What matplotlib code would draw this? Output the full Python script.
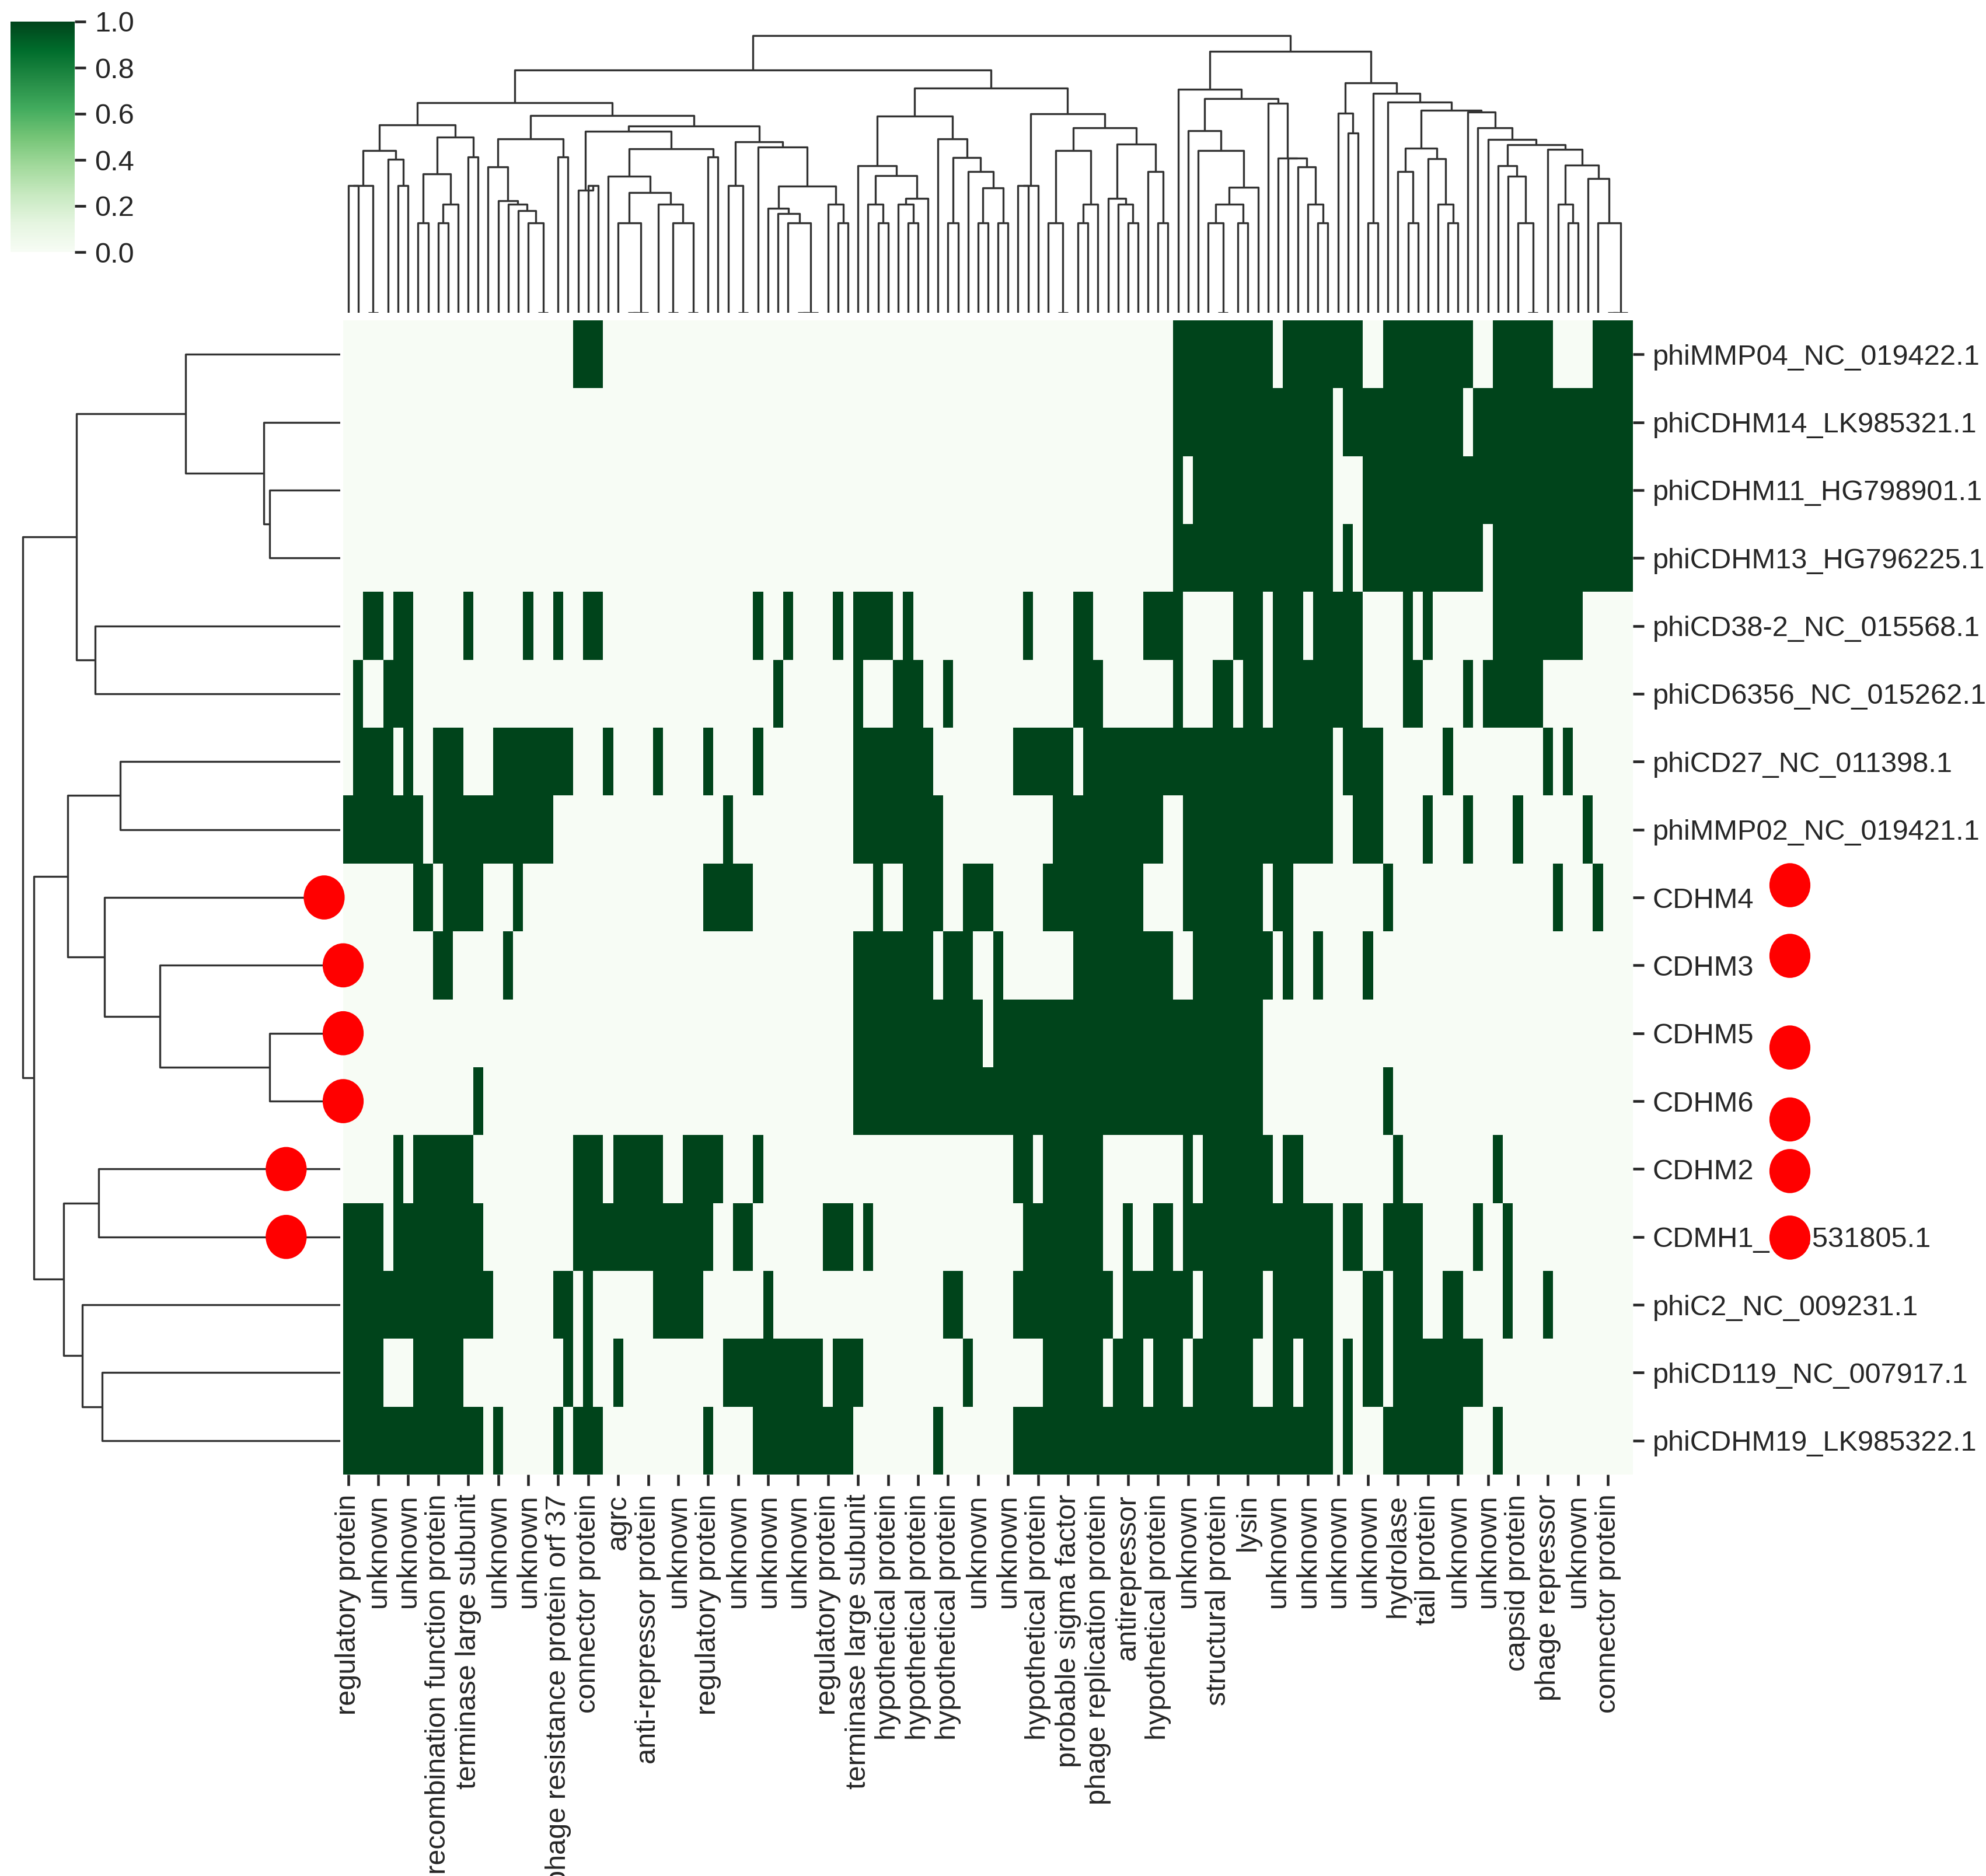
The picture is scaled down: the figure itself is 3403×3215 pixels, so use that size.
import numpy as np
import matplotlib
matplotlib.use("Agg")
import matplotlib.pyplot as plt
from matplotlib.collections import LineCollection
from matplotlib.patches import Ellipse

plt.rcParams['font.family'] = ['Liberation Sans', 'DejaVu Sans']

# ---------------- data ----------------
row_labels = [
    "phiMMP04_NC_019422.1", "phiCDHM14_LK985321.1", "phiCDHM11_HG798901.1",
    "phiCDHM13_HG796225.1", "phiCD38-2_NC_015568.1", "phiCD6356_NC_015262.1",
    "phiCD27_NC_011398.1", "phiMMP02_NC_019421.1", "CDHM4", "CDHM3", "CDHM5",
    "CDHM6", "CDHM2", "CDMH1_HG531805.1", "phiC2_NC_009231.1",
    "phiCD119_NC_007917.1", "phiCDHM19_LK985322.1",
]

n_cols = 129
col_tick_labels = [
    "regulatory protein", "unknown", "unknown", "recombination function protein",
    "terminase large subunit", "unknown", "unknown", "phage resistance protein orf 37",
    "connector protein", "agrc", "anti-repressor protein", "unknown",
    "regulatory protein", "unknown", "unknown", "unknown", "regulatory protein",
    "terminase large subunit", "hypothetical protein", "hypothetical protein",
    "hypothetical protein", "unknown", "unknown", "hypothetical protein",
    "probable sigma factor", "phage replication protein", "antirepressor",
    "hypothetical protein", "unknown", "structural protein", "lysin", "unknown",
    "unknown", "unknown", "unknown", "hydrolase", "tail protein", "unknown",
    "unknown", "capsid protein", "phage repressor", "unknown", "connector protein",
]
label_step = 3

# gene presence (value 1) per genome, as inclusive column ranges in displayed order
presence_ranges = [
    [(23, 25), (83, 92), (94, 101), (104, 112), (115, 120), (125, 128)],
    [(83, 98), (100, 111), (113, 128)],
    [(83, 83), (85, 98), (102, 128)],
    [(83, 98), (100, 100), (102, 113), (115, 128)],
    [(2, 3), (5, 6), (12, 12), (18, 18), (21, 21), (24, 25), (41, 41), (44, 44),
     (49, 49), (51, 54), (56, 56), (68, 68), (73, 74), (80, 83), (89, 91), (93, 95),
     (97, 101), (106, 106), (108, 108), (115, 123)],
    [(1, 1), (4, 6), (43, 43), (51, 51), (55, 57), (60, 60), (73, 75), (83, 83),
     (87, 88), (90, 91), (93, 101), (106, 107), (112, 112), (114, 119)],
    [(1, 4), (6, 6), (9, 11), (15, 22), (26, 26), (31, 31), (36, 36), (41, 41),
     (51, 58), (67, 72), (74, 98), (100, 103), (110, 110), (120, 120), (122, 122)],
    [(0, 7), (9, 20), (38, 38), (51, 59), (71, 81), (84, 98), (101, 103), (108, 108),
     (112, 112), (117, 117), (124, 124)],
    [(7, 8), (10, 13), (17, 17), (36, 40), (53, 53), (56, 59), (62, 64), (70, 79),
     (84, 91), (93, 94), (104, 104), (121, 121), (125, 125)],
    [(9, 10), (16, 16), (51, 58), (60, 62), (65, 65), (73, 82), (85, 92), (94, 94),
     (97, 97), (102, 102)],
    [(51, 63), (65, 91)],
    [(13, 13), (51, 91), (104, 104)],
    [(5, 5), (7, 12), (23, 25), (27, 31), (34, 37), (41, 41), (67, 68), (70, 75),
     (84, 84), (86, 92), (94, 95), (105, 105), (115, 115)],
    [(0, 3), (5, 13), (23, 36), (39, 40), (48, 50), (52, 52), (68, 75), (78, 78),
     (81, 82), (84, 98), (100, 101), (104, 107), (113, 113), (116, 116)],
    [(0, 14), (21, 22), (24, 24), (31, 35), (42, 42), (60, 61), (67, 76), (78, 84),
     (86, 91), (93, 98), (102, 103), (105, 107), (110, 111), (116, 116), (120, 120)],
    [(0, 3), (7, 11), (22, 22), (24, 24), (27, 27), (38, 47), (49, 51), (62, 62),
     (70, 75), (77, 79), (81, 83), (85, 90), (93, 94), (96, 98), (100, 100),
     (102, 103), (105, 113)],
    [(0, 13), (15, 15), (21, 21), (23, 25), (36, 36), (41, 50), (59, 59), (67, 98),
     (100, 100), (104, 111), (115, 115)],
]

# highlighted genomes (red markers): row positions
mark_left_rows = [8.5, 9.5, 10.5, 11.5, 12.5, 13.5]
mark_left_cols = [-1.9, 0.0, 0.0, 0.0, -5.7, -5.7]
mark_right_rows = [8.32, 9.36, 10.71, 11.77, 12.53, 13.51]
mark_right_col = 144.7

# ---------------- build matrix ----------------
n_rows = len(row_labels)
M = np.zeros((n_rows, n_cols))
for i, rngs in enumerate(presence_ranges):
    for a, b in rngs:
        M[i, a:b + 1] = 1


def ordered_average_linkage(X):
    """Average-linkage (euclidean) clustering restricted to neighbours in the
    displayed order; returns dendrogram U-segments in scipy coordinates."""
    n = X.shape[0]
    D = np.sqrt(((X[:, None, :] - X[None, :, :]) ** 2).sum(axis=-1))
    clusters = [([i], 5.0 + 10.0 * i, 0.0) for i in range(n)]
    segs = []
    h = 0.0
    while len(clusters) > 1:
        dists = [D[np.ix_(clusters[j][0], clusters[j + 1][0])].mean()
                 for j in range(len(clusters) - 1)]
        j = int(np.argmin(np.round(dists, 9)))
        (ma, xa, ha), (mb, xb, hb) = clusters[j], clusters[j + 1]
        h = dists[j]
        segs.append([(xa, ha), (xa, h), (xb, h), (xb, hb)])
        clusters[j:j + 2] = [(ma + mb, (xa + xb) / 2.0, h)]
    return segs, h


# ---------------- figure ----------------
W, H = 3403, 3215
DPI = 300
fig = plt.figure(figsize=(W / DPI, H / DPI), dpi=DPI, facecolor='white')


def px_axes(left, top, right, bottom):
    return fig.add_axes([left / W, 1 - bottom / H, (right - left) / W, (bottom - top) / H])


FS = 11.7
TXT = (0.15, 0.15, 0.15)
LINE = (0.2, 0.2, 0.2)

# column dendrogram
col_segs, col_max = ordered_average_linkage(M.T)
ax_col = px_axes(588, 37, 2798, 536)
ax_col.add_collection(LineCollection(col_segs, colors=[LINE], linewidths=0.8))
ax_col.set_xlim(0, 10 * n_cols)
ax_col.set_ylim(0, col_max * 1.05)
ax_col.axis('off')

# row dendrogram
row_segs, row_max = ordered_average_linkage(M)
row_segs = [[(y, x) for (x, y) in s] for s in row_segs]
ax_row = px_axes(12, 549, 583, 2527)
ax_row.add_collection(LineCollection(row_segs, colors=[LINE], linewidths=0.8))
ax_row.set_ylim(0, 10 * n_rows)
ax_row.set_xlim(0, row_max * 1.05)
ax_row.invert_xaxis()
ax_row.invert_yaxis()
ax_row.axis('off')

# heatmap
ax_hm = px_axes(588, 549, 2798, 2527)
ax_hm.set_zorder(5)
ax_hm.patch.set_alpha(0)
mesh = ax_hm.pcolormesh(M, cmap='Greens', vmin=0, vmax=1)
ax_hm.set_xlim(0, n_cols)
ax_hm.set_ylim(n_rows, 0)
for sp in ax_hm.spines.values():
    sp.set_visible(False)
xt = np.arange(0, n_cols, label_step)[:len(col_tick_labels)] + 0.5
ax_hm.set_xticks(xt)
ax_hm.set_xticklabels(col_tick_labels, rotation=90, fontsize=FS, color=TXT)
ax_hm.set_yticks(np.arange(n_rows) + 0.5)
ax_hm.set_yticklabels(row_labels, fontsize=FS, color=TXT)
ax_hm.yaxis.tick_right()
ax_hm.tick_params(axis='both', length=4.6, width=1.1, color=TXT, pad=3.5)
ax_hm.tick_params(axis='y', left=False, right=True)

for r, c in zip(mark_left_rows, mark_left_cols):
    ax_hm.add_patch(Ellipse((c, r), width=4.1, height=0.65, facecolor='red',
                            edgecolor='none', clip_on=False, zorder=10))
for r in mark_right_rows:
    ax_hm.add_patch(Ellipse((mark_right_col, r), width=4.1, height=0.65, facecolor='red',
                            edgecolor='none', clip_on=False, zorder=10))

# colorbar
cax = px_axes(18, 37, 128, 432)
cb = fig.colorbar(mesh, cax=cax, ticks=[0.0, 0.2, 0.4, 0.6, 0.8, 1.0])
cb.outline.set_visible(False)
cb.ax.set_yticklabels(["0.0", "0.2", "0.4", "0.6", "0.8", "1.0"])
cb.ax.tick_params(labelsize=FS, labelcolor=TXT, length=4.6, width=1.1, color=TXT, pad=3.5)

fig.savefig("out.png", dpi=DPI, facecolor='white')
